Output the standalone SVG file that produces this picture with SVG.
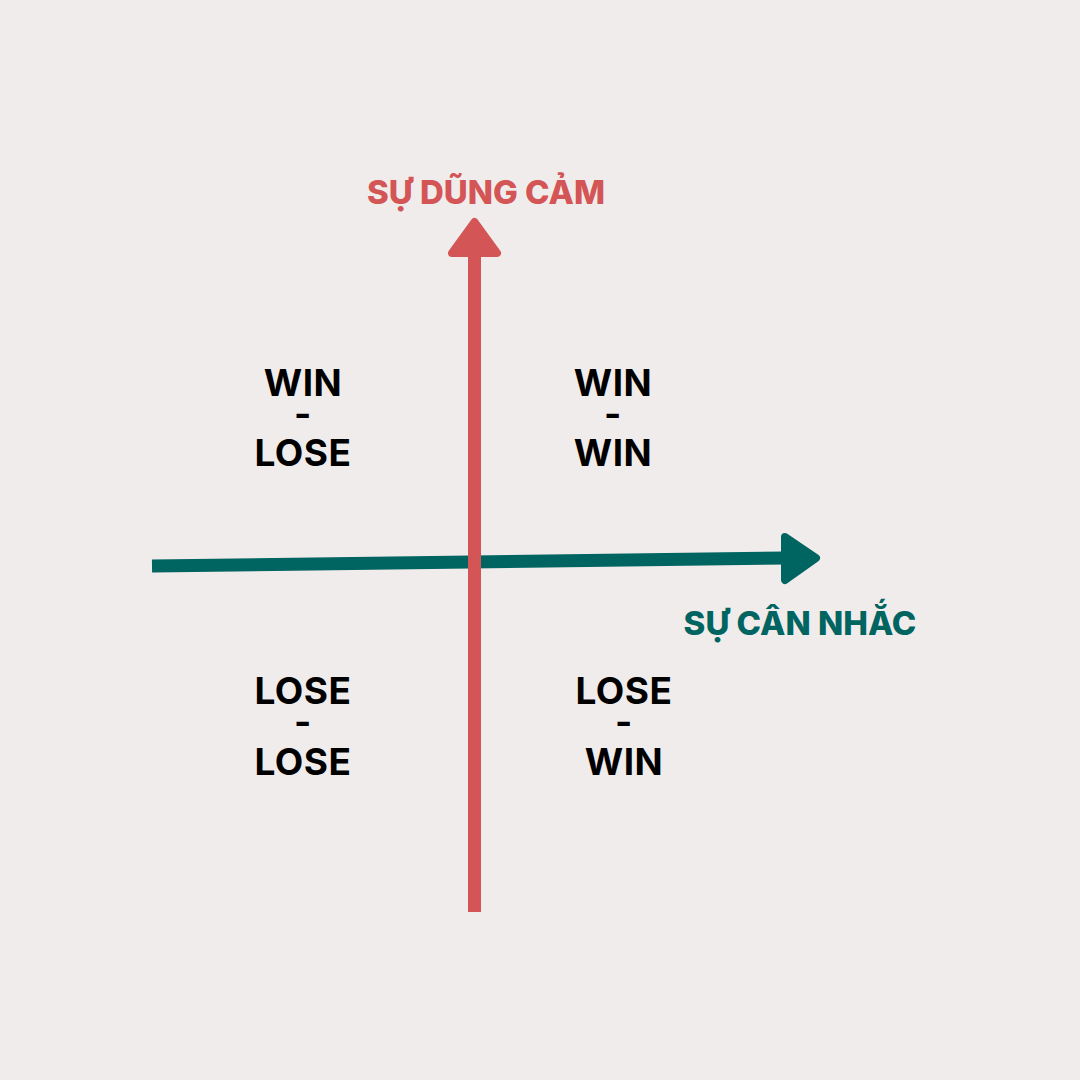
<svg xmlns="http://www.w3.org/2000/svg" width="1080" height="1080" viewBox="0 0 1080 1080">
<style>
.q{font-family:Inter,"Noto Sans","Liberation Sans",sans-serif;font-weight:700;font-size:37px;fill:#000;text-anchor:middle;letter-spacing:0.5px}
.lab{font-family:Inter,"Noto Sans","Liberation Sans",sans-serif;font-weight:800;font-size:33px;text-anchor:middle}
</style>
<rect width="1080" height="1080" fill="#F0ECEB"/>
<g id="connectors">
<line x1="152" y1="566" x2="785" y2="558" stroke="#006461" stroke-width="13"/>
<path d="M785,537 L816,558 L785,580 Z" fill="#006461" stroke="#006461" stroke-width="8" stroke-linejoin="round"/>
<line x1="474.5" y1="912" x2="474.5" y2="252" stroke="#D45555" stroke-width="13"/>
<path d="M452,253 L474.5,222 L497,253 Z" fill="#D45555" stroke="#D45555" stroke-width="8" stroke-linejoin="round"/>
</g>
<g id="label-y"><text class="lab" x="486" y="204" fill="#D45555">SỰ DŨNG CẢM</text></g>
<g id="label-x"><text class="lab" x="800" y="635" fill="#006461">SỰ CÂN NHẮC</text></g>
<g id="q-win-lose"><text class="q" x="303" y="396">WIN</text><text class="q" x="303" y="427">-</text><text class="q" x="303" y="466">LOSE</text></g>
<g id="q-win-win"><text class="q" x="613" y="396">WIN</text><text class="q" x="613" y="427">-</text><text class="q" x="613" y="466">WIN</text></g>
<g id="q-lose-lose"><text class="q" x="303" y="704">LOSE</text><text class="q" x="303" y="735">-</text><text class="q" x="303" y="775">LOSE</text></g>
<g id="q-lose-win"><text class="q" x="624" y="704">LOSE</text><text class="q" x="624" y="735">-</text><text class="q" x="624" y="775">WIN</text></g>
</svg>
